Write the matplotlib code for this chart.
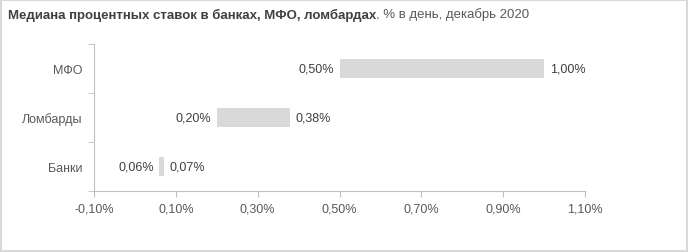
import numpy as np
import matplotlib.pyplot as plt
from matplotlib.patches import Rectangle

plt.rcParams['font.family'] = ['Liberation Sans', 'DejaVu Sans']

#data
categories = ['Банки', 'Ломбарды', 'МФО']
low = [0.06, 0.20, 0.50]
high = [0.07, 0.38, 1.00]
xticks = [-0.10, 0.10, 0.30, 0.50, 0.70, 0.90, 1.10]

def pct(v):
    return '{:.2f}%'.format(v).replace('.', ',')

fig = plt.figure(figsize=(6.88, 2.53), dpi=100)
ax = fig.add_axes([94/688, 1-192/253, (585-94)/688, (192-45)/253])

y = np.arange(len(categories))
widths = [h - l for l, h in zip(low, high)]
ax.barh(y, widths, left=low, height=0.4, color='#d9d9d9')

#value labels either side of the bar
for i in range(len(categories)):
    ax.annotate(pct(low[i]), (low[i], y[i]), xytext=(-4, 0),
                textcoords='offset points', ha='right', va='center',
                fontsize=9, color='#404040')
    ax.annotate(pct(high[i]), (high[i], y[i]), xytext=(4, 0),
                textcoords='offset points', ha='left', va='center',
                fontsize=9, color='#404040')

ax.set_xlim(-0.10, 1.10)
ax.set_ylim(-0.5, 2.5)
ax.set_xticks(xticks)
ax.set_xticklabels([pct(t) for t in xticks], fontsize=9, color='#595959')
ax.set_yticks(y)
ax.set_yticklabels(categories, fontsize=9, color='#595959')
ax.set_yticks([-0.5, 0.5, 1.5, 2.5], minor=True)
ax.tick_params(axis='y', which='major', length=0, pad=8)
ax.tick_params(axis='y', which='minor', length=4, color='#bfbfbf')
ax.tick_params(axis='x', length=4, color='#bfbfbf', pad=4)
for s in ['top', 'right']:
    ax.spines[s].set_visible(False)
for s in ['left', 'bottom']:
    ax.spines[s].set_color('#bfbfbf')

#title: bold part + normal part
t1 = fig.text(8/688, 1-15/253, 'Медиана процентных ставок в банках, МФО, ломбардах',
              fontsize=9.55, fontweight='bold', color='#404040', va='center')
fig.canvas.draw()
bb = t1.get_window_extent()
fig.text(bb.x1/688, 1-15/253, ', % в день, декабрь 2020',
         fontsize=9.55, color='#595959', va='center')

#frame around the picture
fig.patches.append(Rectangle((0.001, 0.002), 0.997, 0.995, transform=fig.transFigure,
                             fill=False, edgecolor='#d9d9d9', linewidth=1.5))

plt.savefig('out.png', dpi=100)
